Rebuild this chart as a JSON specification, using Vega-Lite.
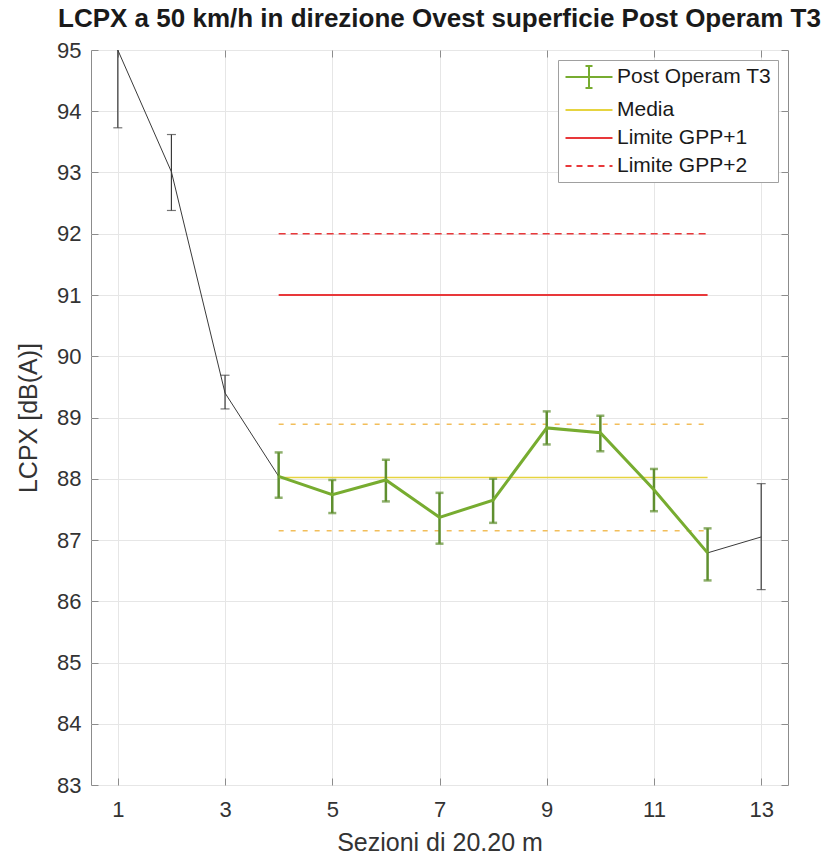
{
  "$schema": "https://vega.github.io/schema/vega-lite/v6.json",
  "width": 697,
  "height": 735,
  "autosize": {"type": "none"},
  "padding": {"left": 91, "top": 50, "right": 40, "bottom": 74},
  "background": "white",
  "title": {
    "text": "LCPX a 50 km/h in direzione Ovest superficie Post Operam T3",
    "font": "Liberation Sans",
    "fontSize": 26,
    "fontWeight": "bold",
    "color": "#1a1a1a",
    "anchor": "middle",
    "baseline": "alphabetic",
    "offset": 0,
    "dy": 14,
    "frame": "group"
  },
  "datasets": {
    "punti": [
      {"s": 1, "v": 95.00, "lo": 93.73, "hi": 96.27, "g": "k"},
      {"s": 2, "v": 93.01, "lo": 92.38, "hi": 93.62, "g": "k"},
      {"s": 3, "v": 89.40, "lo": 89.14, "hi": 89.69, "g": "k"},
      {"s": 4, "v": 88.04, "lo": 87.69, "hi": 88.43, "g": "g"},
      {"s": 5, "v": 87.74, "lo": 87.44, "hi": 87.98, "g": "g"},
      {"s": 6, "v": 87.98, "lo": 87.63, "hi": 88.31, "g": "g"},
      {"s": 7, "v": 87.37, "lo": 86.94, "hi": 87.77, "g": "g"},
      {"s": 8, "v": 87.65, "lo": 87.28, "hi": 88.00, "g": "g"},
      {"s": 9, "v": 88.83, "lo": 88.56, "hi": 89.10, "g": "g"},
      {"s": 10, "v": 88.75, "lo": 88.45, "hi": 89.03, "g": "g"},
      {"s": 11, "v": 87.82, "lo": 87.47, "hi": 88.16, "g": "g"},
      {"s": 12, "v": 86.79, "lo": 86.34, "hi": 87.19, "g": "g"},
      {"s": 13, "v": 87.05, "lo": 86.19, "hi": 87.92, "g": "k"}
    ],
    "rif": [
      {"serie": "Media", "inizio": 4, "fine": 12, "valore": 88.02},
      {"serie": "Media sup", "inizio": 4, "fine": 12, "valore": 88.89},
      {"serie": "Media inf", "inizio": 4, "fine": 12, "valore": 87.15},
      {"serie": "Limite GPP+1", "inizio": 4, "fine": 12, "valore": 91},
      {"serie": "Limite GPP+2", "inizio": 4, "fine": 12, "valore": 92}
    ],
    "legenda": [
      {"serie": "Post Operam T3"},
      {"serie": "Media"},
      {"serie": "Limite GPP+1"},
      {"serie": "Limite GPP+2"}
    ]
  },
  "layer": [
    {
      "layer": [
        {
          "data": {"name": "rif"},
          "transform": [{"filter": "datum.serie === 'Media sup' || datum.serie === 'Media inf'"}],
          "mark": {"type": "rule", "color": "#F2BE5A", "strokeWidth": 1.5, "strokeDash": [5, 7]},
          "encoding": {
            "x": {"field": "inizio", "type": "quantitative"},
            "x2": {"field": "fine"},
            "y": {"field": "valore", "type": "quantitative"}
          }
        },
        {
          "data": {"name": "rif"},
          "transform": [{"filter": "datum.serie === 'Media'"}],
          "mark": {"type": "rule", "color": "#E6D440", "strokeWidth": 1.5},
          "encoding": {
            "x": {"field": "inizio", "type": "quantitative"},
            "x2": {"field": "fine"},
            "y": {"field": "valore", "type": "quantitative"}
          }
        },
        {
          "data": {"name": "rif"},
          "transform": [{"filter": "datum.serie === 'Limite GPP+1'"}],
          "mark": {"type": "rule", "color": "#E8383A", "strokeWidth": 2},
          "encoding": {
            "x": {"field": "inizio", "type": "quantitative"},
            "x2": {"field": "fine"},
            "y": {"field": "valore", "type": "quantitative"}
          }
        },
        {
          "data": {"name": "rif"},
          "transform": [{"filter": "datum.serie === 'Limite GPP+2'"}],
          "mark": {"type": "rule", "color": "#E8383A", "strokeWidth": 1.5, "strokeDash": [7, 5]},
          "encoding": {
            "x": {"field": "inizio", "type": "quantitative"},
            "x2": {"field": "fine"},
            "y": {"field": "valore", "type": "quantitative"}
          }
        },
        {
          "data": {"name": "punti"},
          "mark": {"type": "line", "color": "#3a3a3a", "strokeWidth": 1},
          "encoding": {
            "x": {
              "field": "s", "type": "quantitative",
              "scale": {"domain": [0.5, 13.5], "nice": false, "zero": false},
              "axis": {
                "title": "Sezioni di 20.20 m",
                "values": [1, 3, 5, 7, 9, 11, 13],
                "format": "d",
                "labelPadding": 21,
                "titleBaseline": "alphabetic",
                "titleY": 65
              }
            },
            "y": {
              "field": "v", "type": "quantitative",
              "scale": {"domain": [83, 95], "nice": false, "zero": false},
              "axis": {
                "title": "LCPX [dB(A)]",
                "values": [83, 84, 85, 86, 87, 88, 89, 90, 91, 92, 93, 94, 95],
                "format": "d",
                "labelPadding": 17,
                "titleBaseline": "alphabetic",
                "titleX": -55
              }
            }
          }
        },
        {
          "data": {"name": "punti"},
          "transform": [{"filter": "datum.g === 'k'"}],
          "mark": {"type": "rule", "color": "#3a3a3a", "strokeWidth": 1.2, "clip": true},
          "encoding": {
            "x": {"field": "s", "type": "quantitative"},
            "y": {"field": "lo", "type": "quantitative"},
            "y2": {"field": "hi"}
          }
        },
        {
          "data": {"name": "punti"},
          "transform": [
            {"filter": "datum.g === 'k'"},
            {"fold": ["lo", "hi"], "as": ["estremo", "valore"]}
          ],
          "mark": {"type": "tick", "orient": "horizontal", "color": "#3a3a3a", "size": 9, "thickness": 1.2, "clip": true},
          "encoding": {
            "x": {"field": "s", "type": "quantitative"},
            "y": {"field": "valore", "type": "quantitative"}
          }
        },
        {
          "data": {"name": "punti"},
          "transform": [{"filter": "datum.g === 'g'"}],
          "mark": {"type": "rule", "color": "#5F8F2F", "strokeWidth": 2.5},
          "encoding": {
            "x": {"field": "s", "type": "quantitative"},
            "y": {"field": "lo", "type": "quantitative"},
            "y2": {"field": "hi"}
          }
        },
        {
          "data": {"name": "punti"},
          "transform": [
            {"filter": "datum.g === 'g'"},
            {"fold": ["lo", "hi"], "as": ["estremo", "valore"]}
          ],
          "mark": {"type": "tick", "orient": "horizontal", "color": "#5F8F2F", "size": 8, "thickness": 2.5},
          "encoding": {
            "x": {"field": "s", "type": "quantitative"},
            "y": {"field": "valore", "type": "quantitative"}
          }
        },
        {
          "data": {"name": "punti"},
          "transform": [{"filter": "datum.g === 'g'"}],
          "mark": {"type": "line", "color": "#77AC30", "strokeWidth": 3},
          "encoding": {
            "x": {"field": "s", "type": "quantitative"},
            "y": {"field": "v", "type": "quantitative"}
          }
        },
        {
          "data": {"name": "legenda"},
          "mark": {"type": "point", "filled": false, "opacity": 0, "size": 400, "strokeWidth": 2},
          "encoding": {
            "color": {
              "field": "serie", "type": "nominal",
              "scale": {
                "domain": ["Post Operam T3", "Media", "Limite GPP+1", "Limite GPP+2"],
                "range": ["#77AC30", "#E6D440", "#E8383A", "#E8383A"]
              },
              "legend": {
                "title": null,
                "orient": "top-right",
                "offset": 10,
                "padding": 6,
                "strokeColor": "#a0a0a0",
                "fillColor": "white",
                "labelFont": "Liberation Sans",
                "labelFontSize": 21,
                "labelColor": "#1a1a1a",
                "symbolSize": 400,
                "symbolOffset": 14,
                "labelOffset": 17,
                "rowPadding": 7,
                "symbolStrokeWidth": 2,
                "symbolOpacity": 1
              }
            },
            "shape": {
              "field": "serie", "type": "nominal",
              "scale": {
                "domain": ["Post Operam T3", "Media", "Limite GPP+1", "Limite GPP+2"],
                "range": [
                  "M-2.35,0H2.35M0,-1.1V1.1M-0.35,-1.1H0.35M-0.35,1.1H0.35",
                  "M-2.35,0H2.35",
                  "M-2.35,0H2.35",
                  "M-2.35,0H2.35"
                ]
              }
            },
            "strokeDash": {
              "field": "serie", "type": "nominal",
              "scale": {
                "domain": ["Post Operam T3", "Media", "Limite GPP+1", "Limite GPP+2"],
                "range": [[1, 0], [1, 0], [1, 0], [6, 5]]
              }
            }
          }
        }
      ]
    },
    {
      "data": {"name": "punti"},
      "mark": {"type": "point", "opacity": 0},
      "encoding": {
        "x": {
          "field": "s", "type": "quantitative",
          "scale": {"domain": [0.5, 13.5], "nice": false, "zero": false},
          "axis": {"orient": "top", "labels": false, "grid": false, "title": null, "values": [1, 3, 5, 7, 9, 11, 13]}
        },
        "y": {
          "field": "v", "type": "quantitative",
          "scale": {"domain": [83, 95], "nice": false, "zero": false},
          "axis": {"orient": "right", "labels": false, "grid": false, "title": null, "values": [83, 84, 85, 86, 87, 88, 89, 90, 91, 92, 93, 94, 95]}
        }
      }
    }
  ],
  "resolve": {"axis": {"x": "independent", "y": "independent"}},
  "config": {
    "font": "Liberation Sans",
    "view": {"stroke": "#8c8c8c", "strokeWidth": 1},
    "axis": {
      "grid": true,
      "gridColor": "#e6e6e6",
      "gridWidth": 1,
      "domain": false,
      "ticks": true,
      "tickColor": "#8c8c8c",
      "tickSize": -7,
      "tickWidth": 1,
      "labelFont": "Liberation Sans",
      "labelFontSize": 22,
      "labelColor": "#333333",
      "labelOverlap": false,
      "labelFlush": false,
      "titleFont": "Liberation Sans",
      "titleFontSize": 25,
      "titleFontWeight": "normal",
      "titleColor": "#333333"
    }
  }
}
